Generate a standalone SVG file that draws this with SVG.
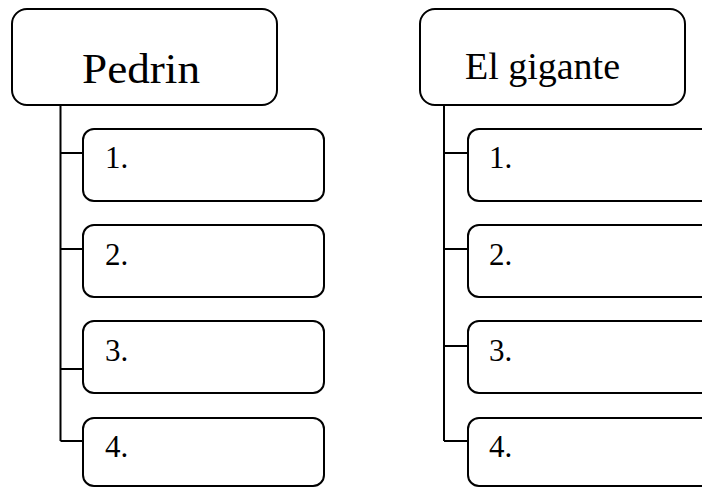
<svg xmlns="http://www.w3.org/2000/svg" width="702" height="487" viewBox="0 0 702 487">
<style>
.box{fill:#fff;stroke:#000;stroke-width:2}
.ln{fill:none;stroke:#000;stroke-width:2}
.t{font-family:"Liberation Serif","DejaVu Serif",serif;fill:#000}
.n{font-size:31px}
</style>
<rect width="702" height="487" fill="#fff"/>
<g id="connectors">
<path class="ln" d="M60.5 105V441M60.5 153H83M60.5 249H83M60.5 369H83M60.5 441H83"/>
<path class="ln" d="M444 105V441M444 153H468M444 249H468M444 346H468M444 441H468"/>
</g>
<g id="pedrin"><rect class="box" x="12" y="9" width="265" height="96" rx="15"/><text class="t" x="82" y="83" font-size="42" textLength="118" lengthAdjust="spacingAndGlyphs">Pedrin</text></g>
<g id="p1"><rect class="box" x="83" y="129" width="241" height="72" rx="11"/><text class="t n" x="105" y="168">1.</text></g>
<g id="p2"><rect class="box" x="83" y="225" width="241" height="72" rx="11"/><text class="t n" x="105" y="265">2.</text></g>
<g id="p3"><rect class="box" x="83" y="321" width="241" height="72" rx="11"/><text class="t n" x="105" y="361">3.</text></g>
<g id="p4"><rect class="box" x="83" y="418" width="241" height="68" rx="11"/><text class="t n" x="105" y="457">4.</text></g>
<g id="gigante"><rect class="box" x="420" y="9" width="265" height="96" rx="15"/><text class="t" x="465" y="79" font-size="37" textLength="155" lengthAdjust="spacingAndGlyphs">El gigante</text></g>
<g id="g1"><rect class="box" x="468" y="129" width="250" height="72" rx="11"/><text class="t n" x="489" y="168">1.</text></g>
<g id="g2"><rect class="box" x="468" y="225" width="250" height="72" rx="11"/><text class="t n" x="489" y="265">2.</text></g>
<g id="g3"><rect class="box" x="468" y="321" width="250" height="72" rx="11"/><text class="t n" x="489" y="361">3.</text></g>
<g id="g4"><rect class="box" x="468" y="418" width="250" height="68" rx="11"/><text class="t n" x="489" y="457">4.</text></g>
</svg>
